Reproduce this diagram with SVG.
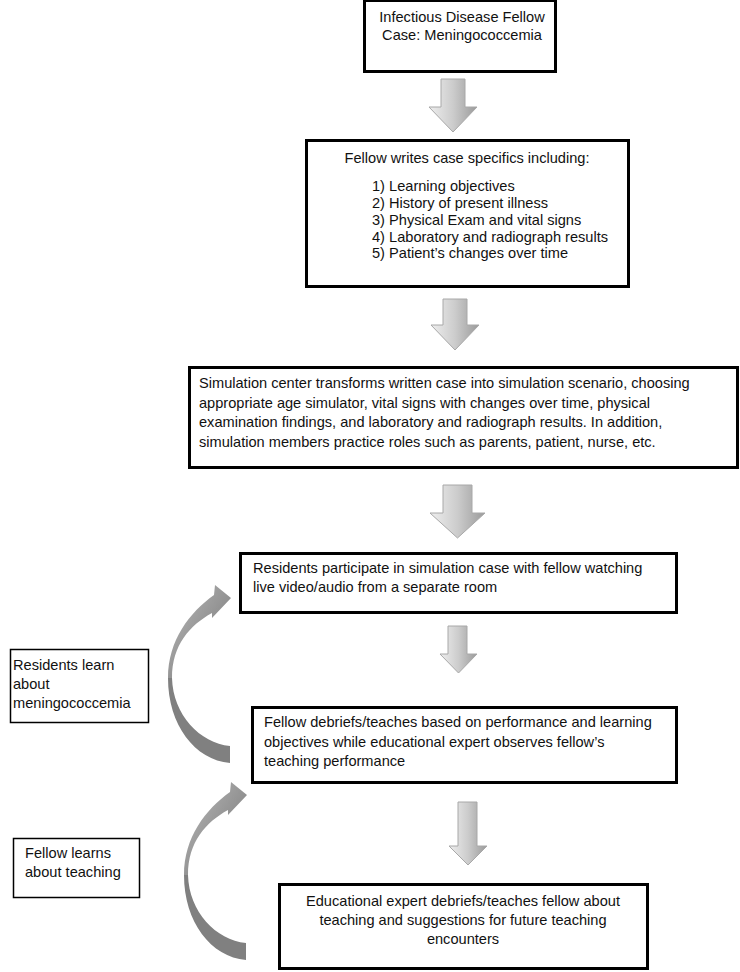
<svg xmlns="http://www.w3.org/2000/svg" width="740" height="972" viewBox="0 0 740 972">
<defs>
<style>
.box{fill:#fff;stroke:#000;stroke-width:3}
.sbox{fill:#fff;stroke:#000;stroke-width:1.5}
text{font-family:"Liberation Sans",Arial,Helvetica,sans-serif;font-size:14.6px;fill:#111}
.c{text-anchor:middle}
.arr{fill:url(#ag);stroke:#a8a8a8;stroke-width:1}
.cup{fill:url(#cg)}
.clo{fill:#808080}
</style>
<linearGradient id="ag" x1="0" y1="0" x2="1" y2="0">
<stop offset="0" stop-color="#eeeeee"/>
<stop offset="0.5" stop-color="#cccccc"/>
<stop offset="1" stop-color="#9a9a9a"/>
</linearGradient>
<linearGradient id="cg" x1="0" y1="0" x2="1" y2="1">
<stop offset="0" stop-color="#bdbdbd"/>
<stop offset="0.6" stop-color="#8e8e8e"/>
<stop offset="1" stop-color="#7a7a7a"/>
</linearGradient>
<g id="curved">
<path class="cup" d="M168 678 C168 640 190 612 214 595 L215 585 L231 598 L212 618 L212 613 C190 625 172 645 172 678 Z"/>
<path class="clo" d="M168 678 C168 725 195 760 230 763 L230 746 C200 743 173 715 172 678 Z"/>
</g>
</defs>
<g id="connectors">
<path class="arr" d="M441 79 H465 V107 H477 L453 132 L429 107 H441 Z"/>
<path class="arr" d="M443 299 H467 V325 H479 L455 350 L431 325 H443 Z"/>
<path class="arr" d="M443 485 H472 V513 H485 L457.5 538 L430 513 H443 Z"/>
<path class="arr" d="M448 626 H467 V654 H477 L458.5 673 L440 654 H448 Z"/>
<path class="arr" d="M458 802 H477 V846 H487 L468 865 L449 846 H458 Z"/>
<use href="#curved"/>
<use href="#curved" transform="translate(16 197)"/>
</g>
<g id="n1">
<rect class="box" x="364.5" y="0.5" width="191" height="71"/>
<text class="c" x="462" y="22">Infectious Disease Fellow</text>
<text class="c" x="462" y="40">Case: Meningococcemia</text>
</g>
<g id="n2">
<rect class="box" x="306.5" y="140.5" width="322" height="146"/>
<text class="c" x="467" y="163">Fellow writes case specifics including:</text>
<text x="372" y="191">1) Learning objectives</text>
<text x="372" y="208">2) History of present illness</text>
<text x="372" y="225">3) Physical Exam and vital signs</text>
<text x="372" y="242">4) Laboratory and radiograph results</text>
<text x="372" y="258">5) Patient’s changes over time</text>
</g>
<g id="n3">
<rect class="box" x="189.5" y="367.5" width="548" height="100"/>
<text x="199" y="388">Simulation center transforms written case into simulation scenario, choosing</text>
<text x="199" y="408">appropriate age simulator, vital signs with changes over time, physical</text>
<text x="199" y="427">examination findings, and laboratory and radiograph results. In addition,</text>
<text x="199" y="447">simulation members practice roles such as parents, patient, nurse, etc.</text>
</g>
<g id="n4">
<rect class="box" x="240.5" y="553.5" width="436" height="59"/>
<text x="253" y="573">Residents participate in simulation case with fellow watching</text>
<text x="253" y="592">live video/audio from a separate room</text>
</g>
<g id="n5">
<rect class="box" x="252.5" y="707.5" width="424" height="75"/>
<text x="264" y="727">Fellow debriefs/teaches based on performance and learning</text>
<text x="264" y="747">objectives while educational expert observes fellow’s</text>
<text x="264" y="766">teaching performance</text>
</g>
<g id="n6">
<rect class="box" x="279.5" y="884.5" width="368" height="84"/>
<text class="c" x="463" y="906">Educational expert debriefs/teaches fellow about</text>
<text class="c" x="463" y="925">teaching and suggestions for future teaching</text>
<text class="c" x="463" y="944">encounters</text>
</g>
<g id="n7">
<rect class="sbox" x="10.5" y="649.5" width="138" height="73"/>
<text x="13" y="670">Residents learn</text>
<text x="13" y="689">about</text>
<text x="13" y="708">meningococcemia</text>
</g>
<g id="n8">
<rect class="sbox" x="13.5" y="838.5" width="126" height="59"/>
<text x="25" y="858">Fellow learns</text>
<text x="25" y="877">about teaching</text>
</g>
</svg>
